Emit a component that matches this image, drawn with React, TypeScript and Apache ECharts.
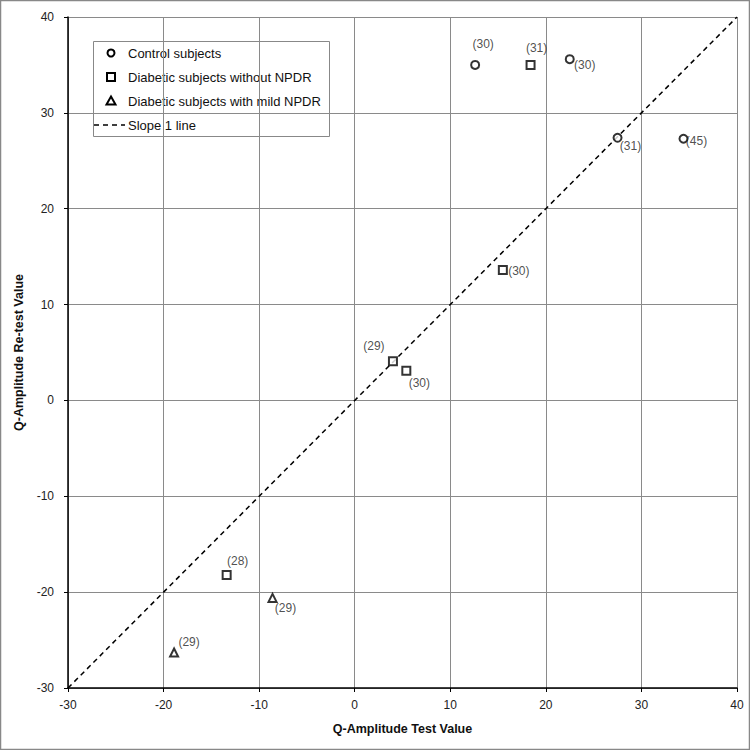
import React, { useEffect, useRef } from "react";
import * as echarts from "echarts";

// Control subjects
const controlX = [12.6, 22.5, 27.5, 34.4];
const controlY = [35.0, 35.6, 27.4, 27.3];
const controlN = ["(30)", "(30)", "(31)", "(45)"];

// Diabetic subjects without NPDR
const noNpdrX = [18.4, 15.5, 4.0, 5.4, -13.4];
const noNpdrY = [35.0, 13.6, 4.1, 3.1, -18.2];
const noNpdrN = ["(31)", "(30)", "(29)", "(30)", "(28)"];

// Diabetic subjects with mild NPDR
const mildX = [-8.6, -18.9];
const mildY = [-20.6, -26.3];
const mildN = ["(29)", "(29)"];

// Slope 1 line endpoints
const slopeX = [-30, 40];

const axisMin = -30;
const axisMax = 40;
const axisStep = 10;

const legendNames = [
  "Control subjects",
  "Diabetic subjects without NPDR",
  "Diabetic subjects with mild NPDR",
  "Slope 1 line",
];

// label offsets (px) of each point label from its marker (styling only)
const controlOff = [[9, -20], [16, 7], [14, 9], [14, 3]];
const noNpdrOff = [[7, -16], [17, 2], [-18, -14], [14, 13], [12, -13]];
const mildOff = [[14, 11], [16, -10]];

const FONT = "Liberation Sans";
const LABEL_COLOR = "#222";

function pts(xs: number[], ys: number[], ns: string[], offs: number[][], size: number) {
  return xs.map((x, i) => ({
    value: [x, ys[i]],
    label: {
      show: true,
      formatter: ns[i],
      color: LABEL_COLOR,
      textBorderWidth: 0,
      textBorderColor: "transparent",
      fontSize: 12,
      fontFamily: FONT,
      position: [offs[i][0] + size / 2, offs[i][1] + size / 2],
      align: "center",
      verticalAlign: "middle",
    },
  }));
}

export default function App() {
  const ref = useRef<HTMLDivElement>(null);
  useEffect(() => {
    if (!ref.current) return;
    const chart = echarts.init(ref.current, undefined, { renderer: "svg" });
    const markerStyle = { color: "#fff", borderColor: "#000", borderWidth: 2 };
    const labelStyle = {
      show: true,
      color: LABEL_COLOR,
      textBorderWidth: 0,
      textBorderColor: "transparent",
      fontSize: 12,
      fontFamily: FONT,
    };
    const lx = 111;
    const rows = [53, 77, 101, 125];
    const legendText = (i: number) => ({
      type: "text",
      x: 128,
      y: rows[i],
      style: {
        text: legendNames[i],
        fill: "#111",
        font: `13px "${FONT}"`,
        verticalAlign: "middle",
        align: "left",
      },
    });
    const symStroke = { fill: "#fff", stroke: "#000", lineWidth: 2 };
    chart.setOption({
      animation: false,
      backgroundColor: "#fff",
      grid: { left: 68, right: 13, top: 17, bottom: 62, containLabel: false },
      xAxis: {
        type: "value",
        min: axisMin,
        max: axisMax,
        interval: axisStep,
        name: "Q-Amplitude Test Value",
        nameLocation: "middle",
        nameGap: 34,
        nameTextStyle: { color: "#111", fontSize: 12.5, fontWeight: "bold", fontFamily: FONT },
        axisLine: { onZero: false, lineStyle: { color: "#000", width: 1.5 } },
        axisTick: { show: true, length: 4, lineStyle: { color: "#000" } },
        axisLabel: { color: "#222", fontSize: 12, fontFamily: FONT, margin: 11 },
        splitLine: { show: true, lineStyle: { color: "#8a8a8a", width: 1 } },
      },
      yAxis: {
        type: "value",
        min: axisMin,
        max: axisMax,
        interval: axisStep,
        name: "Q-Amplitude Re-test Value",
        nameLocation: "middle",
        nameGap: 38,
        nameTextStyle: { color: "#111", fontSize: 12.5, fontWeight: "bold", fontFamily: FONT },
        axisLine: { onZero: false, lineStyle: { color: "#000", width: 1.5 } },
        axisTick: { show: true, length: 4, lineStyle: { color: "#000" } },
        axisLabel: { color: "#222", fontSize: 12, fontFamily: FONT, margin: 14 },
        splitLine: { show: true, lineStyle: { color: "#8a8a8a", width: 1 } },
      },
      series: [
        {
          name: legendNames[0],
          type: "scatter",
          symbol: "circle",
          symbolSize: 8,
          itemStyle: markerStyle,
          label: labelStyle,
          data: pts(controlX, controlY, controlN, controlOff, 8),
          z: 5,
        },
        {
          name: legendNames[1],
          type: "scatter",
          symbol: "rect",
          symbolSize: 8,
          itemStyle: markerStyle,
          label: labelStyle,
          data: pts(noNpdrX, noNpdrY, noNpdrN, noNpdrOff, 8),
          z: 5,
        },
        {
          name: legendNames[2],
          type: "scatter",
          symbol: "triangle",
          symbolSize: 8,
          itemStyle: markerStyle,
          label: labelStyle,
          data: pts(mildX, mildY, mildN, mildOff, 8),
          z: 5,
        },
        {
          name: legendNames[3],
          type: "line",
          symbol: "none",
          lineStyle: { color: "#000", width: 1.5, type: [5, 4] },
          itemStyle: { color: "#000" },
          data: slopeX.map((v) => [v, v]),
          z: 3,
        },
      ],
      graphic: [
        {
          type: "rect",
          shape: { x: 0.5, y: 0.5, width: 749, height: 749 },
          style: { fill: "none", stroke: "#888", lineWidth: 1.5 },
          silent: true,
        },
        {
          type: "group",
          z: 100,
          children: [
            {
              type: "rect",
              shape: { x: 93.5, y: 41.5, width: 236, height: 95 },
              style: { fill: "#fff", stroke: "#888", lineWidth: 1 },
            },
            {
              type: "circle",
              shape: { cx: lx, cy: rows[0], r: 3.5 },
              style: symStroke,
            },
            {
              type: "rect",
              shape: { x: lx - 4, y: rows[1] - 4, width: 8, height: 8 },
              style: symStroke,
            },
            {
              type: "polygon",
              shape: {
                points: [
                  [lx, rows[2] - 4.5],
                  [lx + 4.5, rows[2] + 3.5],
                  [lx - 4.5, rows[2] + 3.5],
                ],
              },
              style: symStroke,
            },
            {
              type: "line",
              shape: { x1: 94, y1: rows[3], x2: 125, y2: rows[3] },
              style: { stroke: "#000", lineWidth: 1.5, lineDash: [5, 4] },
            },
            legendText(0),
            legendText(1),
            legendText(2),
            legendText(3),
          ],
        },
      ],
    });
    return () => chart.dispose();
  }, []);
  return (
    <div
      ref={ref}
      style={{ position: "fixed", left: 0, top: 0, width: 750, height: 750 }}
    />
  );
}
